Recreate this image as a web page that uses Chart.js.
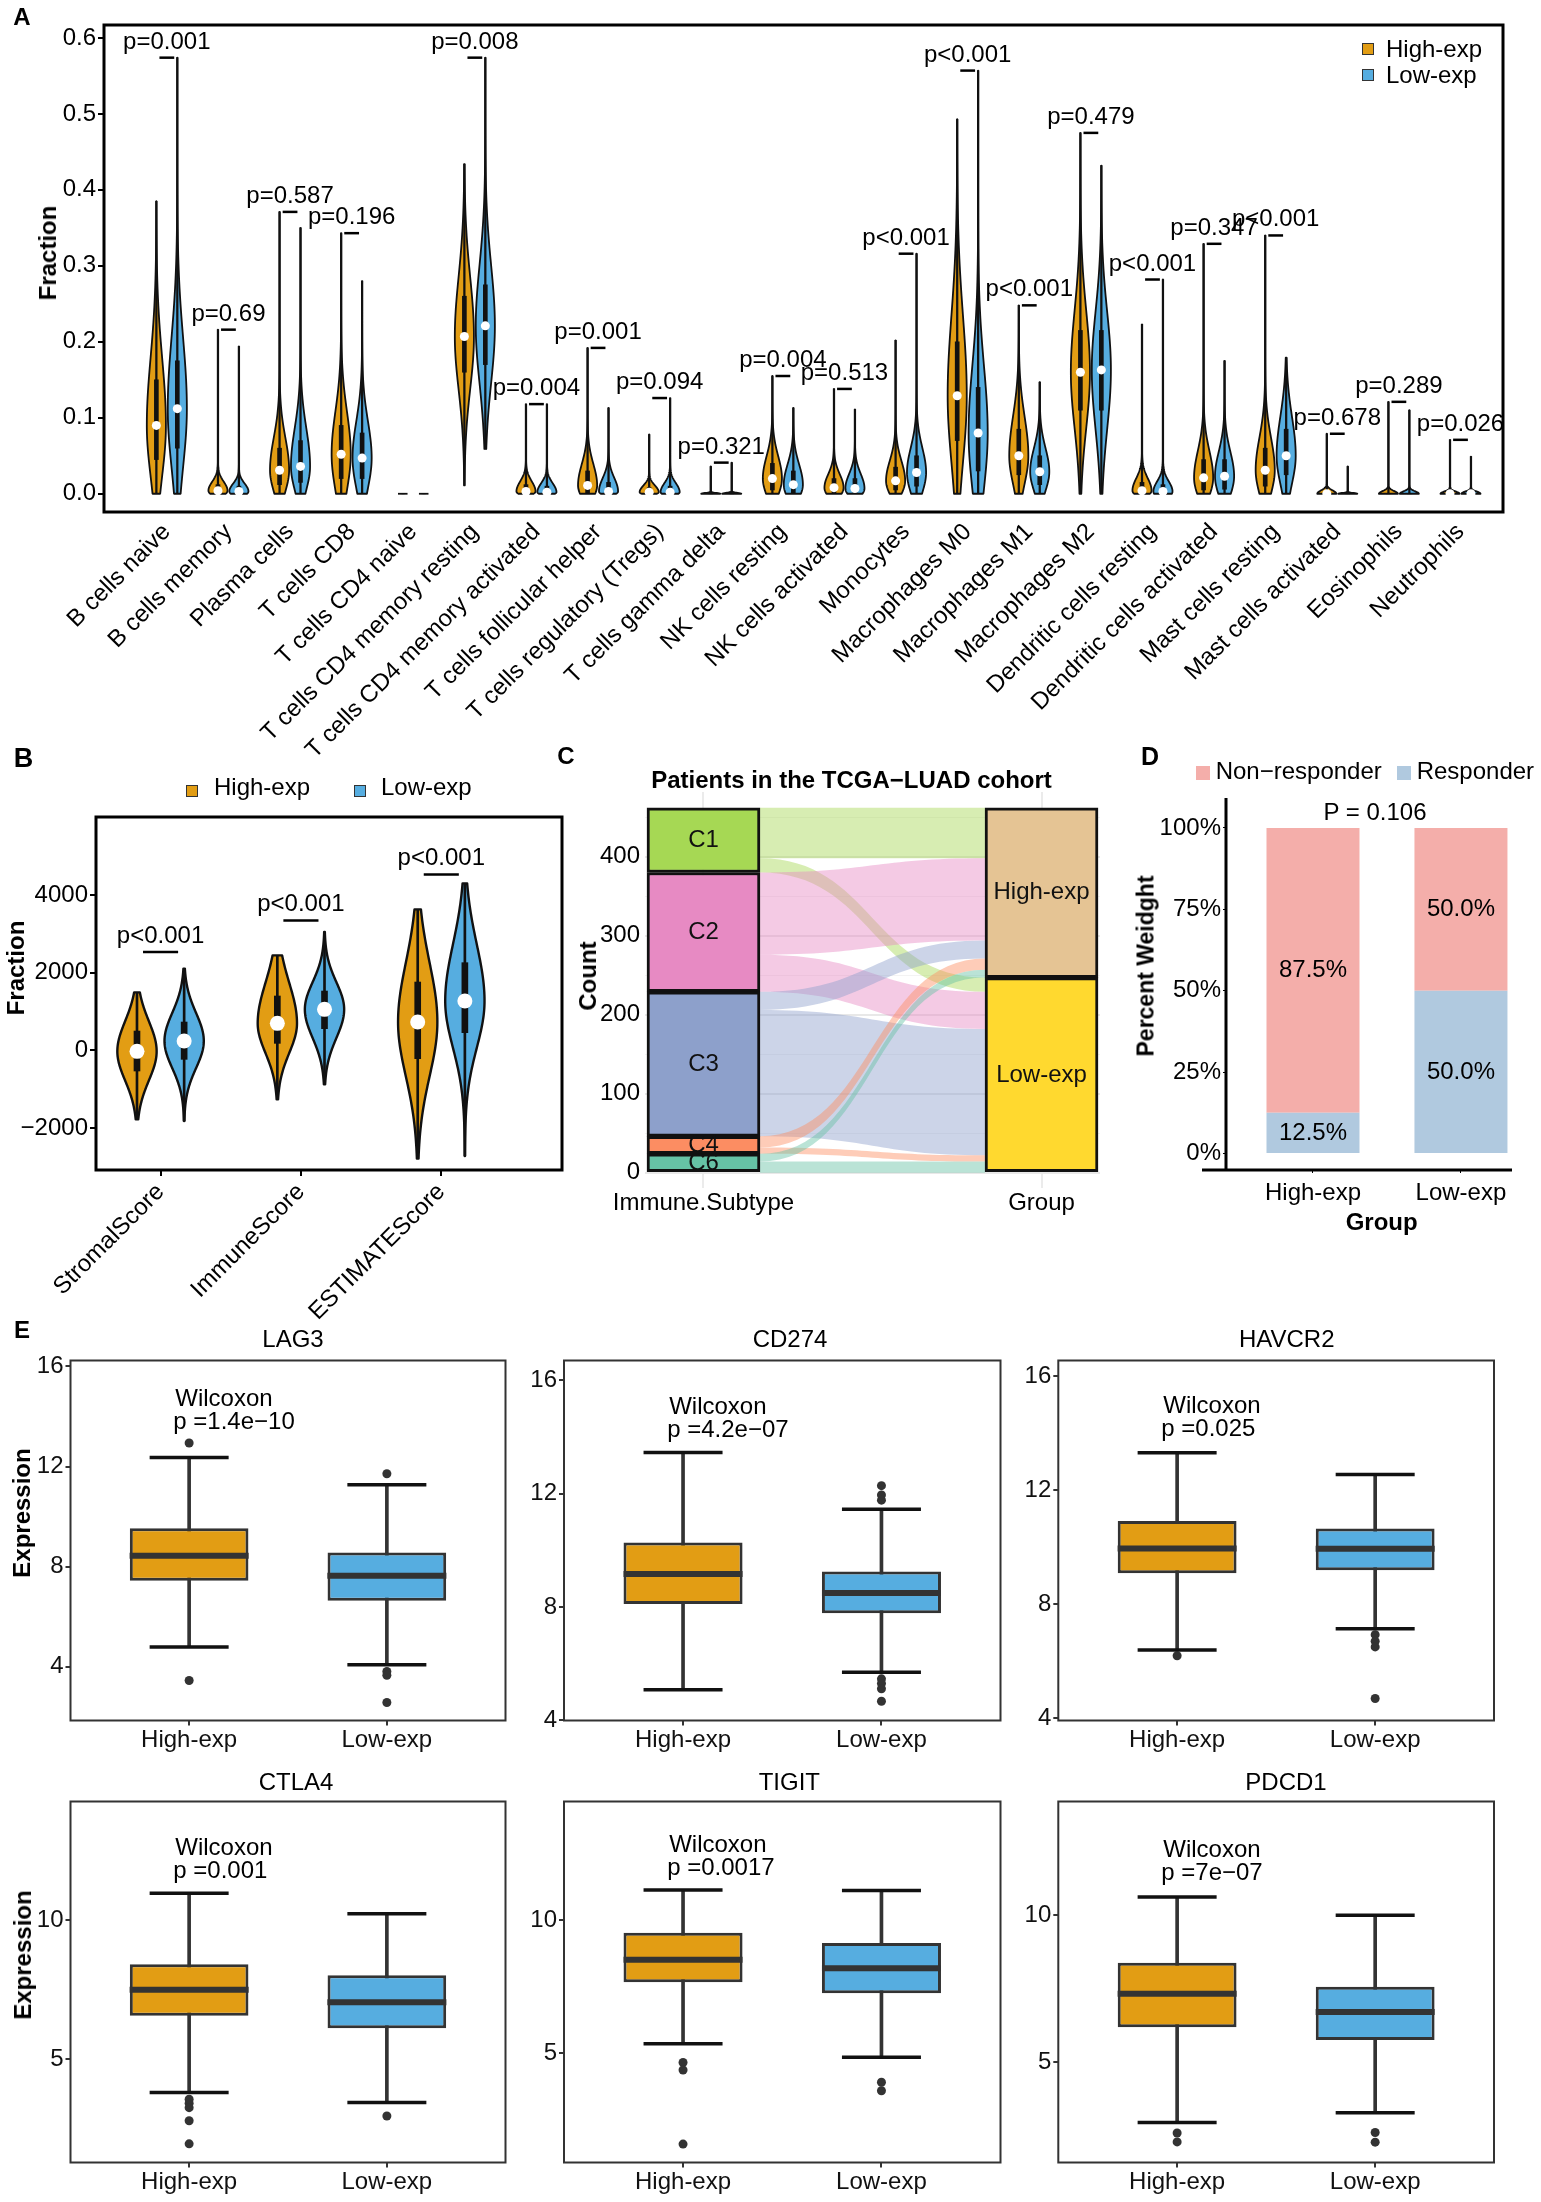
<!DOCTYPE html>
<html><head><meta charset="utf-8">
<script src="https://cdn.jsdelivr.net/npm/chart.js@4.4.1/dist/chart.umd.min.js"></script>
<style>
body{margin:0;background:#fff}
#page{position:relative;width:1541px;height:2202px;overflow:hidden;font-family:'Liberation Sans',Arial,sans-serif;color:#000;background:#fff}
canvas{position:absolute}
.t{position:absolute;line-height:1;white-space:nowrap}
.sq{position:absolute;box-sizing:border-box}
</style></head><body><div id="page">
<canvas id="cA" width="1541" height="770" style="left:0;top:0"></canvas>
<canvas id="cB" width="590" height="580" style="left:0;top:740px"></canvas>
<canvas id="cC" width="560" height="500" style="left:560px;top:740px"></canvas>
<canvas id="cD" width="421" height="500" style="left:1120px;top:740px"></canvas>
<canvas id="cE0" width="520" height="470" style="left:0;top:1290px"></canvas>
<canvas id="cE1" width="500" height="470" style="left:515px;top:1290px"></canvas>
<canvas id="cE2" width="536" height="470" style="left:1005px;top:1290px"></canvas>
<canvas id="cE3" width="520" height="442" style="left:0;top:1760px"></canvas>
<canvas id="cE4" width="500" height="442" style="left:515px;top:1760px"></canvas>
<canvas id="cE5" width="536" height="442" style="left:1005px;top:1760px"></canvas>
</div>
<script>
// ---- A: immune cell fractions, [min, q1, median, q3, max]
const cellTypes = ['B cells naive','B cells memory','Plasma cells','T cells CD8','T cells CD4 naive',
  'T cells CD4 memory resting','T cells CD4 memory activated','T cells follicular helper',
  'T cells regulatory (Tregs)','T cells gamma delta','NK cells resting','NK cells activated','Monocytes',
  'Macrophages M0','Macrophages M1','Macrophages M2','Dendritic cells resting','Dendritic cells activated',
  'Mast cells resting','Mast cells activated','Eosinophils','Neutrophils'];
const highA = [[0,0.045,0.09,0.15,0.385],[0,0,0.004,0.012,0.216],[0,0.012,0.031,0.06,0.371],[0,0.02,0.052,0.09,0.343],
  [0,0,0,0,0],[0.011,0.16,0.207,0.26,0.434],[0,0,0.003,0.012,0.118],[0,0,0.011,0.03,0.192],[0,0,0.002,0.008,0.078],
  [0,0,0,0,0.036],[0,0.005,0.02,0.04,0.155],[0,0,0.008,0.02,0.138],[0,0.005,0.017,0.035,0.202],[0,0.07,0.129,0.2,0.493],
  [0,0.025,0.05,0.085,0.248],[0,0.11,0.16,0.215,0.475],[0,0,0.004,0.015,0.223],[0,0.005,0.021,0.045,0.329],
  [0,0.01,0.031,0.06,0.34],[0,0,0,0.003,0.079],[0,0,0,0,0.121],[0,0,0,0.002,0.071]];
const lowA = [[0,0.06,0.112,0.175,0.574],[0,0,0.003,0.01,0.194],[0,0.015,0.036,0.07,0.35],[0,0.02,0.047,0.08,0.28],
  [0,0,0,0,0],[0.059,0.17,0.221,0.275,0.574],[0,0,0.002,0.01,0.118],[0,0,0.003,0.015,0.113],[0,0,0.002,0.01,0.126],
  [0,0,0,0,0.041],[0,0,0.012,0.03,0.113],[0,0,0.007,0.02,0.111],[0,0.01,0.028,0.05,0.316],[0,0.03,0.08,0.14,0.557],
  [0,0.012,0.029,0.05,0.147],[0,0.11,0.163,0.215,0.432],[0,0,0.003,0.012,0.282],[0,0.006,0.023,0.045,0.175],
  [0,0.025,0.05,0.085,0.179],[0,0,0,0,0.036],[0,0,0,0,0.11],[0,0,0,0.002,0.049]];
const pA = ['p=0.001','p=0.69','p=0.587','p=0.196','','p=0.008','p=0.004','p=0.001','p=0.094','p=0.321','p=0.004',
  'p=0.513','p<0.001','p<0.001','p<0.001','p=0.479','p<0.001','p=0.347','p<0.001','p=0.678','p=0.289','p=0.026'];
const fracTicks = [0,0.1,0.2,0.3,0.4,0.5,0.6];

// ---- B: ESTIMATE scores
const scoreNames = ['StromalScore','ImmuneScore','ESTIMATEScore'];
const highB = [[-1776,-532,-26,497,1493],[-1261,180,695,1399,2445],[-2788,-214,729,1759,3630]];
const lowB = [[-1820,-232,240,729,2103],[-875,558,1055,1527,3046],[-2720,455,1270,2257,4298]];
const pB = ['p<0.001','p<0.001','p<0.001'];
const bracketB = [2530,3346,4530];
const scoreTicks = [-2000,0,2000,4000];

// ---- C: alluvial, patients per subtype going to each group
const subtypes = ['C1','C2','C3','C4','C6'];
const groups = ['High-exp','Low-exp'];
const flowHigh = [64,104,23,14,10];
const flowLow = [18,47,160,8,14];
const countTicks = [0,100,200,300,400];

// ---- D: response share (%)
const respGroups = ['High-exp','Low-exp'];
const responder = [12.5,50.0];
const nonResponder = [87.5,50.0];
const pctTicks = [0,25,50,75,100];

// ---- E: checkpoint expression, [lower whisker, q1, median, q3, upper whisker]
const genes = ['LAG3','CD274','HAVCR2','CTLA4','TIGIT','PDCD1'];
const boxHigh = [[4.78,7.43,8.43,9.53,12.36],[5.08,8.1,9.16,10.27,13.45],[6.39,9.08,9.95,10.91,13.31],
  [3.8,6.56,7.49,8.41,10.96],[5.35,7.66,8.5,9.52,11.12],[2.96,6.19,7.33,8.38,10.62]];
const boxLow = [[4.07,6.63,7.63,8.56,11.27],[5.69,7.78,8.49,9.25,11.45],[7.14,9.19,9.94,10.65,12.54],
  [3.44,6.11,7.04,8.01,10.22],[4.85,7.25,8.19,9.13,11.1],[3.29,5.76,6.71,7.57,10.0]];
const outHigh = [[12.94,3.44],[],[6.19],[3.56,3.42,3.26,2.79,1.96],[4.65,4.37,1.59],[2.6,2.3]];
const outLow = [[11.71,3.8,3.65,2.56],[12.28,11.95,11.77,5.46,5.3,5.11,4.67],[6.93,6.7,6.5,4.69],[2.96],[3.91,3.59],[2.62,2.29]];
const wilcoxP = ['1.4e\u221210','4.2e\u221207','0.025','0.001','0.0017','7e\u221207'];
const wilcoxY = [14.67,15.06,14.92,12.57,12.81,12.19];
const geneTicks = [[4,8,12,16],[4,8,12,16],[4,8,12,16],[5,10],[5,10],[5,10]];
const geneRange = [[1.84,16.24],[3.99,16.7],[3.92,16.54],[1.29,14.25],[0.9,14.44],[1.6,13.86]];

const FONT = "'Liberation Sans', Arial, sans-serif";
const ORANGE = '#E29D14', BLUE = '#56ADE0';
const SET2 = ['#A6D854','#E78AC3','#8DA0CB','#FC8D62','#66C2A5'];
const GRPCOL = ['#E5C494','#FFD92F'];
const PINK = '#F4AEAA', LBLUE = '#B0C9DF';

Chart.defaults.font.family = FONT;
Chart.defaults.color = '#000';
Chart.defaults.animation = false;
Chart.defaults.events = [];
Chart.defaults.plugins.legend.display = false;
Chart.defaults.plugins.tooltip.enabled = false;

const page = document.getElementById('page');
function txt(s, x, y, size, o) {
  o = o || {};
  const d = document.createElement('div');
  d.className = 't';
  d.textContent = s;
  d.style.left = x + 'px'; d.style.top = y + 'px';
  d.style.font = (o.bold ? 'bold ' : '') + size + 'px ' + FONT;
  d.style.transform = 'translate(' + (o.left ? '0' : '-50%') + ',-50%)' + (o.rot ? ' rotate(-90deg)' : '');
  page.appendChild(d);
}
function sq(x, y, s, col, border) {
  const d = document.createElement('div');
  d.className = 'sq';
  d.style.cssText += `left:${x - s / 2}px;top:${y - s / 2}px;width:${s}px;height:${s}px;background:${col};` +
    (border ? 'border:1.5px solid #333;' : '');
  page.appendChild(d);
}

// force chart area to a fixed rectangle inside the canvas
function area(W, H, L, T, R, B) {
  return {
    layout: {autoPadding: false, padding: {left: 0, top: T, right: W - R, bottom: 0}},
    fitY: s => { s.width = L; s.paddingTop = 0; s.paddingBottom = 0; },
    fitX: s => { s.height = H - B; s.paddingLeft = 0; s.paddingRight = 0; }
  };
}
const fixTicks = vals => s => { s.ticks = vals.map(v => ({value: v})); };
const frame = (w, c) => ({id: 'frame', afterDatasetsDraw(ch) {
  const a = ch.chartArea, ctx = ch.ctx;
  ctx.save(); ctx.lineWidth = w; ctx.strokeStyle = c;
  ctx.strokeRect(a.left, a.top, a.right - a.left, a.bottom - a.top);
  ctx.restore();
}});

function violin(ctx, xs, ys, st, cx, half, fill, lw) {
  const [mn, q1, md, q3, mx] = st;
  const px = xs.getPixelForValue(cx);
  const hw = xs.getPixelForValue(cx + half) - px;
  ctx.save();
  ctx.lineWidth = lw; ctx.strokeStyle = '#111'; ctx.fillStyle = fill; ctx.lineJoin = 'round';
  if (mx <= mn) {
    const py = ys.getPixelForValue(mn);
    ctx.beginPath(); ctx.moveTo(px - hw * 0.5, py); ctx.lineTo(px + hw * 0.5, py); ctx.stroke();
    ctx.restore(); return;
  }
  const span = mx - mn;
  const sLo = Math.max(md - q1, span * 0.02) * 1.48;
  const sHi = Math.max(q3 - md, span * 0.02) * 1.48;
  const prof = []; let peak = 0;
  for (let k = 0; k <= 140; k++) {
    const v = mn + span * k / 140;
    const z = v < md ? (md - v) / sLo : (v - md) / sHi;
    const w = Math.exp(-0.5 * z * z);
    peak = Math.max(peak, w);
    prof.push([ys.getPixelForValue(v), w]);
  }
  ctx.beginPath();
  prof.forEach(([py, w], k) => { const xx = px - hw * w / peak; k ? ctx.lineTo(xx, py) : ctx.moveTo(xx, py); });
  for (let k = prof.length - 1; k >= 0; k--) ctx.lineTo(px + hw * prof[k][1] / peak, prof[k][0]);
  ctx.closePath(); ctx.fill(); ctx.stroke(); ctx.restore();
}
const violins = (sets, half, lw) => ({id: 'violins', beforeDatasetsDraw(ch) {
  const {ctx, scales: {x, y}} = ch;
  sets.forEach(s => s.stats.forEach((st, i) => violin(ctx, x, y, st, i + s.dx, half, s.color, lw)));
}});
function innerSets(stats, dx, thin, thick, dot) {
  return [
    {data: stats.map((s, i) => ({x: i + dx, y: [s[0], s[4]]})), backgroundColor: '#111', grouped: false,
      maxBarThickness: thin, barPercentage: 1, categoryPercentage: 1, order: 3},
    {data: stats.map((s, i) => ({x: i + dx, y: [s[1], s[3]]})), backgroundColor: '#111', grouped: false,
      maxBarThickness: thick, barPercentage: 1, categoryPercentage: 1, order: 2},
    {type: 'line', showLine: false, order: 1, pointRadius: dot, pointBackgroundColor: '#fff', pointBorderWidth: 0,
      data: stats.map((s, i) => ({x: i + dx, y: s[2]})).filter((p, i) => stats[i][3] > 0)}
  ];
}
const tickFont = {size: 24};

// ================= A =================
{
  const a = area(1541, 770, 104, 25, 1503, 512);
  new Chart(document.getElementById('cA'), {
    type: 'bar',
    data: {datasets: [...innerSets(highA, -0.17, 1.6, 4, 4.5), ...innerSets(lowA, 0.17, 1.6, 4, 4.5)]},
    options: {
      responsive: false, layout: a.layout,
      scales: {
        x: {type: 'linear', min: -1.02, max: 21.69, offset: false, afterFit: a.fitX, afterBuildTicks: fixTicks(cellTypes.map((_, i) => i)),
          grid: {display: false, drawTicks: false, offset: false}, border: {display: false},
          ticks: {autoSkip: false, minRotation: 45, maxRotation: 45, font: tickFont, padding: 6, callback: v => cellTypes[v]}},
        y: {min: -0.024, max: 0.617, afterFit: a.fitY, afterBuildTicks: fixTicks(fracTicks),
          grid: {drawOnChartArea: false, tickLength: 6, color: '#000', lineWidth: 2}, border: {display: false},
          ticks: {font: tickFont, padding: 2, callback: v => v.toFixed(1)}}
      }
    },
    plugins: [violins([{stats: highA, dx: -0.17, color: ORANGE}, {stats: lowA, dx: 0.17, color: BLUE}], 0.155, 1.8),
      frame(3, '#000'),
      {id: 'pA', afterDatasetsDraw(ch) {
        const {ctx, scales: {x, y}} = ch;
        ctx.save(); ctx.font = '24px ' + FONT; ctx.fillStyle = '#000'; ctx.strokeStyle = '#000';
        ctx.lineWidth = 2.5; ctx.textAlign = 'center';
        pA.forEach((t, i) => {
          if (!t) return;
          const py = y.getPixelForValue(Math.max(highA[i][4], lowA[i][4]));
          ctx.beginPath(); ctx.moveTo(x.getPixelForValue(i - 0.12), py); ctx.lineTo(x.getPixelForValue(i + 0.12), py); ctx.stroke();
          ctx.fillText(t, x.getPixelForValue(i), py - 9);
        });
        ctx.restore();
      }}]
  });
}

// ================= B =================
{
  const a = area(590, 580, 96, 77, 562, 430);
  new Chart(document.getElementById('cB'), {
    type: 'bar',
    data: {datasets: [...innerSets(highB, -0.168, 2, 6, 7.5), ...innerSets(lowB, 0.168, 2, 6, 7.5)]},
    options: {
      responsive: false, layout: a.layout,
      scales: {
        x: {type: 'linear', min: -0.46, max: 2.86, offset: false, afterFit: a.fitX, afterBuildTicks: fixTicks([0, 1, 2]),
          grid: {drawOnChartArea: false, tickLength: 6, color: '#000', lineWidth: 2, offset: false}, border: {display: false},
          ticks: {autoSkip: false, minRotation: 45, maxRotation: 45, font: tickFont, padding: 2, callback: v => scoreNames[v]}},
        y: {min: -3081, max: 6008, afterFit: a.fitY, afterBuildTicks: fixTicks(scoreTicks),
          grid: {drawOnChartArea: false, tickLength: 6, color: '#000', lineWidth: 2}, border: {display: false},
          ticks: {font: tickFont, padding: 2, callback: v => v < 0 ? '\u2212' + (-v) : String(v)}}
      }
    },
    plugins: [violins([{stats: highB, dx: -0.168, color: ORANGE}, {stats: lowB, dx: 0.168, color: BLUE}], 0.14, 2.4),
      frame(3, '#000'),
      {id: 'pB', afterDatasetsDraw(ch) {
        const {ctx, scales: {x, y}} = ch;
        ctx.save(); ctx.font = '24px ' + FONT; ctx.fillStyle = '#000'; ctx.strokeStyle = '#000';
        ctx.lineWidth = 2.5; ctx.textAlign = 'center';
        pB.forEach((t, i) => {
          const py = y.getPixelForValue(bracketB[i]);
          ctx.beginPath(); ctx.moveTo(x.getPixelForValue(i - 0.125), py); ctx.lineTo(x.getPixelForValue(i + 0.125), py); ctx.stroke();
          ctx.fillText(t, x.getPixelForValue(i), py - 9);
        });
        ctx.restore();
      }}]
  });
}

// ================= C =================
{
  const a = area(560, 500, 85, 52, 540, 448);
  const subCount = subtypes.map((_, k) => flowHigh[k] + flowLow[k]);
  const total = subCount.reduce((s, v) => s + v, 0);
  const lowTotal = flowLow.reduce((s, v) => s + v, 0);
  let acc = total;
  const strata = subCount.map(c => { const r = [acc - c, acc]; acc -= c; return r; });
  const grpRanges = [[lowTotal, total], [0, lowTotal]];
  const COLW = 113;
  new Chart(document.getElementById('cC'), {
    type: 'bar',
    data: {datasets: [{
      data: [...strata.map(r => ({x: 1, y: r})), ...grpRanges.map(r => ({x: 2, y: r}))],
      backgroundColor: [...SET2, ...GRPCOL], borderColor: '#111', borderWidth: 3, borderSkipped: false,
      grouped: false, maxBarThickness: COLW, barPercentage: 1, categoryPercentage: 1
    }]},
    options: {
      responsive: false, layout: a.layout,
      scales: {
        x: {type: 'linear', min: 0.827, max: 2.173, offset: false, afterFit: a.fitX, afterBuildTicks: fixTicks([1, 2]),
          grid: {drawTicks: false, offset: false, color: '#EBEBEB', lineWidth: 2}, border: {display: false},
          ticks: {font: tickFont, padding: 1, callback: v => v === 1 ? 'Immune.Subtype' : 'Group'}},
        y: {min: -19.4, max: 481.9, afterFit: a.fitY, afterBuildTicks: fixTicks([0, 50, 100, 150, 200, 250, 300, 350, 400, 450]),
          grid: {drawTicks: false, color: c => c.tick && c.tick.value % 100 ? '#F3F3F3' : '#E8E8E8', lineWidth: c => c.tick && c.tick.value % 100 ? 1 : 2},
          border: {display: false},
          ticks: {font: tickFont, padding: 5, callback: v => countTicks.includes(v) ? String(v) : ''}}
      }
    },
    plugins: [{id: 'flows', beforeDatasetsDraw(ch) {
      const {ctx, scales: {x, y}} = ch;
      const xl = x.getPixelForValue(1) + COLW / 2, xr = x.getPixelForValue(2) - COLW / 2, xm = (xl + xr) / 2;
      const gTop = [total, lowTotal];
      ctx.save(); ctx.globalAlpha = 0.45;
      subtypes.forEach((s, k) => {
        let top = strata[k][1];
        [flowHigh[k], flowLow[k]].forEach((f, g) => {
          const l0 = y.getPixelForValue(top), l1 = y.getPixelForValue(top - f);
          const r0 = y.getPixelForValue(gTop[g]), r1 = y.getPixelForValue(gTop[g] - f);
          top -= f; gTop[g] -= f;
          ctx.fillStyle = SET2[k];
          ctx.beginPath();
          ctx.moveTo(xl, l0); ctx.bezierCurveTo(xm, l0, xm, r0, xr, r0);
          ctx.lineTo(xr, r1); ctx.bezierCurveTo(xm, r1, xm, l1, xl, l1);
          ctx.closePath(); ctx.fill();
        });
      });
      ctx.restore();
    }, afterDatasetsDraw(ch) {
      const {ctx, scales: {x, y}} = ch;
      ctx.save(); ctx.font = '24px ' + FONT; ctx.fillStyle = '#111'; ctx.textAlign = 'center'; ctx.textBaseline = 'middle';
      strata.forEach((r, k) => ctx.fillText(subtypes[k], x.getPixelForValue(1), y.getPixelForValue((r[0] + r[1]) / 2)));
      grpRanges.forEach((r, g) => ctx.fillText(groups[g], x.getPixelForValue(2), y.getPixelForValue((r[0] + r[1]) / 2)));
      ctx.restore();
    }}]
  });
}

// ================= D =================
{
  const a = area(421, 500, 106, 58, 392, 430);
  new Chart(document.getElementById('cD'), {
    type: 'bar',
    data: {datasets: [
      {label: 'Responder', data: responder.map((v, i) => ({x: i, y: v})), backgroundColor: LBLUE, maxBarThickness: 93},
      {label: 'Non\u2212responder', data: nonResponder.map((v, i) => ({x: i, y: v})), backgroundColor: PINK, maxBarThickness: 93}
    ]},
    options: {
      responsive: false, layout: a.layout,
      scales: {
        x: {type: 'linear', stacked: true, min: -0.588, max: 1.345, offset: false, afterFit: a.fitX, afterBuildTicks: fixTicks([0, 1]),
          grid: {drawOnChartArea: false, tickLength: 3, color: '#000', offset: false}, border: {display: false},
          ticks: {font: tickFont, padding: 6, callback: v => respGroups[v]}},
        y: {stacked: true, min: -5.1, max: 109.2, afterFit: a.fitY, afterBuildTicks: fixTicks(pctTicks),
          grid: {drawOnChartArea: false, tickLength: 3, color: '#000'}, border: {display: false},
          ticks: {font: tickFont, padding: 2, callback: v => v + '%'}}
      }
    },
    plugins: [{id: 'axesD', afterDatasetsDraw(ch) {
      const {ctx, chartArea: c, scales: {x, y}} = ch;
      ctx.save(); ctx.strokeStyle = '#000'; ctx.lineWidth = 3;
      ctx.beginPath(); ctx.moveTo(c.left, c.top); ctx.lineTo(c.left, c.bottom);
      ctx.moveTo(c.left - 24, c.bottom); ctx.lineTo(c.right, c.bottom); ctx.stroke();
      ctx.font = '24px ' + FONT; ctx.fillStyle = '#000'; ctx.textAlign = 'center'; ctx.textBaseline = 'middle';
      respGroups.forEach((g, i) => {
        ctx.fillText(responder[i].toFixed(1) + '%', x.getPixelForValue(i), y.getPixelForValue(responder[i] / 2));
        ctx.fillText(nonResponder[i].toFixed(1) + '%', x.getPixelForValue(i), y.getPixelForValue(responder[i] + nonResponder[i] / 2));
      });
      ctx.restore();
    }}]
  });
}

// ================= E =================
const eCanvas = [[0, 1290, 520, 470], [515, 1290, 500, 470], [1005, 1290, 536, 470], [0, 1760, 520, 442], [515, 1760, 500, 442], [1005, 1760, 536, 442]];
const eFrameX = [[70.5, 505.5], [564, 1000.5], [1058.3, 1494]];
const eFrameY = [[1360.5, 1720.5], [1801.5, 2162.5]];
genes.forEach((gname, k) => {
  const [cx, cy, W, H] = eCanvas[k];
  const fx = eFrameX[k % 3], fy = eFrameY[Math.floor(k / 3)];
  const a = area(W, H, fx[0] - cx, fy[0] - cy, fx[1] - cx, fy[1] - cy);
  const grp = [boxHigh[k], boxLow[k]];
  new Chart(document.getElementById('cE' + k), {
    type: 'bar',
    data: {datasets: [
      {type: 'line', showLine: false, order: 0, pointStyle: 'line', pointRadius: 39.5, pointBorderWidth: 3.5, pointBorderColor: '#111',
        data: grp.flatMap((s, i) => [{x: i, y: s[0]}, {x: i, y: s[4]}])},
      {type: 'line', showLine: false, order: 1, pointStyle: 'line', pointRadius: 59.5, pointBorderWidth: 6, pointBorderColor: '#333',
        data: grp.map((s, i) => ({x: i, y: s[2]}))},
      {data: grp.map((s, i) => ({x: i, y: [s[1], s[3]]})), backgroundColor: [ORANGE, BLUE], borderColor: '#333', borderWidth: 3,
        borderSkipped: false, grouped: false, barPercentage: 0.6, categoryPercentage: 1, order: 2},
      {data: grp.map((s, i) => ({x: i, y: [s[0], s[4]]})), backgroundColor: '#333', grouped: false,
        maxBarThickness: 3, barPercentage: 1, categoryPercentage: 1, order: 3},
      {type: 'line', showLine: false, order: 4, pointRadius: 4.5, pointBackgroundColor: '#333', pointBorderWidth: 0,
        data: [...outHigh[k].map(v => ({x: 0, y: v})), ...outLow[k].map(v => ({x: 1, y: v}))]}
    ]},
    options: {
      responsive: false, layout: a.layout,
      scales: {
        x: {type: 'linear', min: -0.6, max: 1.6, offset: false, afterFit: a.fitX, afterBuildTicks: fixTicks([0, 1]),
          grid: {drawOnChartArea: false, tickLength: 5, color: '#333', lineWidth: 2, offset: false}, border: {display: false},
          ticks: {font: tickFont, padding: 0, color: '#111', callback: v => groups[v]}},
        y: {min: geneRange[k][0], max: geneRange[k][1], afterFit: a.fitY, afterBuildTicks: fixTicks(geneTicks[k]),
          grid: {drawOnChartArea: false, tickLength: 5, color: '#333', lineWidth: 2}, border: {display: false},
          ticks: {font: tickFont, padding: 2, color: '#111', callback: v => String(v)}}
      }
    },
    plugins: [frame(2, '#333'), {id: 'wilcox', afterDatasetsDraw(ch) {
      const {ctx, scales: {x, y}} = ch;
      const px = x.getPixelForValue(-0.07), py = y.getPixelForValue(wilcoxY[k]);
      ctx.save(); ctx.font = '24px ' + FONT; ctx.fillStyle = '#000'; ctx.textAlign = 'left'; ctx.textBaseline = 'middle';
      ctx.fillText('Wilcoxon', px, py);
      ctx.fillText('p =' + wilcoxP[k], px - 2, py + 23);
      ctx.restore();
    }}]
  });
});

// ================= static text =================
txt('A', 22, 16.5, 24, {bold: true});
txt('Fraction', 48, 253, 24, {bold: true, rot: true});
sq(1368, 49, 12, ORANGE, true); txt('High-exp', 1386, 48.5, 24, {left: true});
sq(1368, 75, 12, BLUE, true); txt('Low-exp', 1386, 74.7, 24, {left: true});

txt('B', 23.5, 758, 27, {bold: true});
sq(192, 791, 12, ORANGE, true); txt('High-exp', 214, 787, 24, {left: true});
sq(359.5, 791, 12, BLUE, true); txt('Low-exp', 381, 787, 24, {left: true});
txt('Fraction', 15.5, 968, 24, {bold: true, rot: true});

txt('C', 566, 755.5, 24, {bold: true});
txt('Patients in the TCGA\u2212LUAD cohort', 851.5, 780, 24, {bold: true});
txt('Count', 588, 976, 24, {bold: true, rot: true});

txt('D', 1150, 756, 25, {bold: true});
sq(1203, 772.5, 14, PINK); txt('Non\u2212responder', 1215.7, 771, 24, {left: true});
sq(1403.7, 772.5, 14, LBLUE); txt('Responder', 1416.7, 771, 24, {left: true});
txt('P = 0.106', 1375, 811.5, 24);
txt('Percent Weidght', 1146, 966, 23, {bold: true, rot: true});
txt('Group', 1381.7, 1222, 24, {bold: true});

txt('E', 22, 1329.5, 24, {bold: true});
const eTitlePos = [[293, 1338.5], [790, 1339], [1286.7, 1339], [296, 1781.7], [789.3, 1781.7], [1286, 1781.7]];
genes.forEach((g, k) => txt(g, eTitlePos[k][0], eTitlePos[k][1], 24));
txt('Expression', 22, 1513, 24, {bold: true, rot: true});
txt('Expression', 23, 1955, 24, {bold: true, rot: true});
</script>
</body></html>
